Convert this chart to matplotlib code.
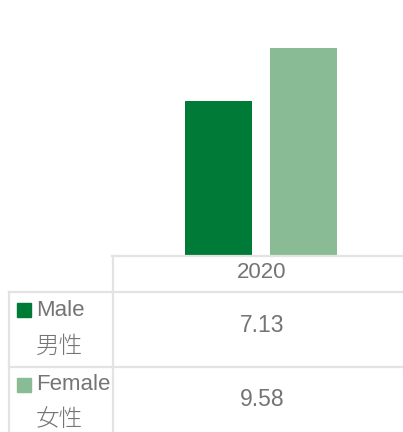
import matplotlib
matplotlib.use("Agg")
import matplotlib.pyplot as plt
from matplotlib.lines import Line2D
from matplotlib.patches import Rectangle

# data
years = ["2020"]
series_en = ["Male", "Female"]
series_zh = ["男性", "女性"]
values = [7.13, 9.58]
colors = ["#007a37", "#89bb94"]

W, H = 403, 432
fig = plt.figure(figsize=(W / 100, H / 100), dpi=100)

def fx(x):
    return x / W

def fy(y):
    return 1 - y / H

txt_color = "#747474"
grid_color = "#e3e3e3"
lat = ["Liberation Sans", "DejaVu Sans"]
cjk = ["Noto Sans CJK JP", "DejaVu Sans"]

# bar area: x from 112 to 410 px, y from 0 to 255 px
ax = fig.add_axes([fx(112), fy(255), fx(410) - fx(112), fy(0) - fy(255)])
offs = [-0.1426, 0.1426]
for v, c, o in zip(values, colors, offs):
    ax.bar(0 + o, v, width=0.225, color=c)
ax.set_xlim(-0.5, 0.5)
ax.set_ylim(0, 9.58 * 255 / 207)
ax.axis("off")

# table grid
def hline(y, x0, x1):
    fig.add_artist(Line2D([fx(x0), fx(x1)], [fy(y), fy(y)], color=grid_color, lw=1.6))

def vline(x, y0, y1):
    fig.add_artist(Line2D([fx(x), fx(x)], [fy(y0), fy(y1)], color=grid_color, lw=1.6))

hline(255.5, 112, 403)
hline(292, 9, 403)
hline(367, 9, 403)
vline(112.5, 256, 432)
vline(9, 292, 432)

# header
fig.text(fx(262), fy(273), years[0], ha="center", va="center", fontsize=16,
         color=txt_color, family=lat)

# rows
row_y = [(310, 346, 325), (385, 419, 400)]
for i, (y_en, y_zh, y_val) in enumerate(row_y):
    fig.add_artist(Rectangle((fx(17), fy(y_en + 7)), fx(14), 14 / H,
                             color=colors[i], transform=fig.transFigure))
    fig.text(fx(36), fy(y_en), series_en[i], ha="left", va="center", fontsize=16,
             color=txt_color, family=lat)
    fig.text(fx(36), fy(y_zh), series_zh[i], ha="left", va="center", fontsize=17,
             color=txt_color, family=cjk, fontweight="light")
    fig.text(fx(262), fy(y_val), f"{values[i]:.2f}", ha="center", va="center",
             fontsize=16.5, color=txt_color, family=lat)

fig.savefig("out.png", dpi=100)
